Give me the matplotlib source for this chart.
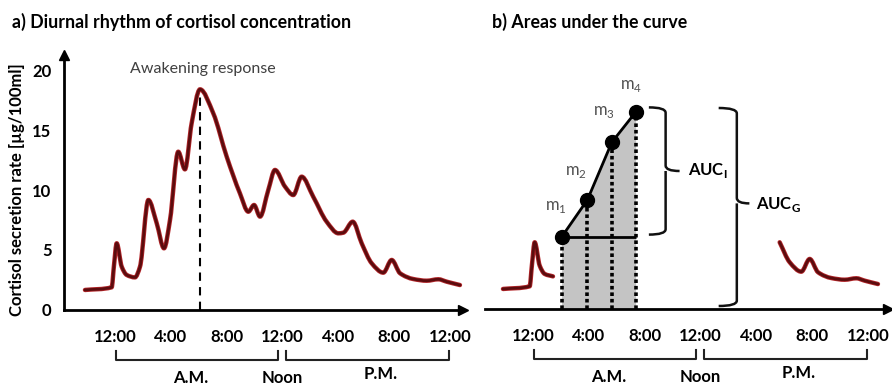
import matplotlib
matplotlib.use('Agg')
import matplotlib.pyplot as plt
import numpy as np
from matplotlib.path import Path
from matplotlib.patches import PathPatch

plt.rcParams['font.family'] = ['Lato', 'DejaVu Sans']

# Cortisol secretion over a day (hours after midnight, µg/100ml)
hours = [-2.15, -0.24, -0.07, 0.12, 0.48, 0.84, 1.43, 1.79, 2.39, 2.99,
         3.51, 3.94, 4.53, 5.01, 5.49, 6.09, 7.04, 8.0, 8.95, 9.55,
         9.96, 10.39, 10.98, 11.46, 12.18, 12.77, 13.37, 14.2, 15.16, 16.0,
         16.35, 17.03, 17.67, 18.39, 19.22, 19.82, 20.42, 21.37, 22.33, 23.16,
         23.76, 24.71]
cortisol = [1.67, 1.89, 3.75, 5.56, 3.61, 2.92, 2.72, 3.61, 9.17, 7.22,
            5.14, 7.5, 13.19, 11.72, 15.56, 18.39, 16.39, 12.78, 9.72, 8.19,
            8.75, 7.78, 10.0, 11.67, 10.28, 9.58, 11.11, 9.44, 7.36, 6.39,
            6.44, 7.36, 5.56, 3.89, 3.11, 4.17, 3.06, 2.58, 2.44, 2.56,
            2.36, 2.08]

# four morning samples used for the AUC illustration
sample_hours = [2.05, 3.9, 5.65, 7.35]
sample_values = [6.0, 9.1, 13.9, 16.4]
sample_names = ['1', '2', '3', '4']

tick_hours = [0, 4, 8, 12, 16, 20, 24]
tick_labels = ['12:00', '4:00', '8:00', '12:00', '4:00', '8:00', '12:00']
y_ticks = [0, 5, 10, 15, 20]

hours = np.array(hours)
cortisol = np.array(cortisol)

W, H = 892, 387
fig = plt.figure(figsize=(W / 100, H / 100), dpi=100)


def px_axes(left, right, top, bottom):
    return fig.add_axes([left / W, 1 - bottom / H, (right - left) / W, (bottom - top) / H])


ax_a = px_axes(64, 463, 55, 310)
ax_b = px_axes(485, 888, 54, 309)

line_dark = '#5c0c0e'
line_red = '#b3262a'


def smooth_path(x, y):
    # cubic Bezier through the points, PCHIP-style slopes so peaks stay on the samples
    h = np.diff(x)
    d = np.diff(y) / h
    m = np.zeros_like(y)
    for i in range(1, len(x) - 1):
        if d[i - 1] * d[i] > 0:
            w1 = 2 * h[i] + h[i - 1]
            w2 = h[i] + 2 * h[i - 1]
            m[i] = (w1 + w2) / (w1 / d[i - 1] + w2 / d[i])
    m[0], m[-1] = d[0], d[-1]
    verts = [(x[0], y[0])]
    codes = [Path.MOVETO]
    for i in range(len(x) - 1):
        dx = h[i] / 3
        verts += [(x[i] + dx, y[i] + m[i] * dx), (x[i + 1] - dx, y[i + 1] - m[i + 1] * dx),
                  (x[i + 1], y[i + 1])]
        codes += [Path.CURVE4] * 3
    return Path(verts, codes)


def draw_curve(ax, x, y):
    p = smooth_path(x, y)
    ax.add_patch(PathPatch(p, fill=False, ec=line_red, lw=3.2, joinstyle='round',
                           capstyle='round', zorder=3))
    ax.add_patch(PathPatch(p, fill=False, ec=line_dark, lw=2.0, joinstyle='round',
                           capstyle='round', zorder=4))


def time_axis(ax):
    ax.set_ylim(0, 21.25)
    ax.set_xticks(tick_hours)
    ax.set_xticklabels(tick_labels, fontweight='bold', fontsize=12)
    ax.tick_params(axis='x', length=0, pad=14)
    for s in ['top', 'right']:
        ax.spines[s].set_visible(False)
    ax.spines['bottom'].set_linewidth(2)
    ax.plot(1, 0, '>', color='k', ms=7, transform=ax.get_yaxis_transform(), clip_on=False)
    # A.M. / P.M. brackets below the time labels
    for x0, x1 in [(0.1, 11.7), (12.25, 23.9)]:
        ax.plot([x0, x0, x1, x1], [-3.4, -4.2, -4.2, -3.4], color='#222222', lw=1.5,
                clip_on=False)
    ax.text(5.4, -5.65, 'A.M.', ha='center', va='center', fontweight='bold', fontsize=12)
    ax.text(12.0, -5.65, 'Noon', ha='center', va='center', fontweight='bold', fontsize=12)
    ax.text(19.0, -5.35, 'P.M.', ha='center', va='center', fontweight='bold', fontsize=12)


def brace(ax, x0, x1, tip, y_top, y_bot, y_mid):
    r = 0.45
    verts = [(x0, y_top), (x1, y_top), (x1, y_top - r),
             (x1, y_mid + r), (x1, y_mid), (tip, y_mid),
             (x1, y_mid), (x1, y_mid - r),
             (x1, y_bot + r), (x1, y_bot), (x0, y_bot)]
    codes = [Path.MOVETO, Path.CURVE3, Path.CURVE3,
             Path.LINETO, Path.CURVE3, Path.LINETO,
             Path.MOVETO, Path.LINETO,
             Path.LINETO, Path.CURVE3, Path.CURVE3]
    ax.add_patch(PathPatch(Path(verts, codes), fill=False, lw=1.8, ec='#111111', clip_on=False))


# ---- a) diurnal rhythm
ax = ax_a
ax.set_xlim((64 - 115) / 13.96, (463 - 115) / 13.96)
time_axis(ax)
ax.spines['left'].set_linewidth(2)
ax.plot(0, 1, '^', color='k', ms=7, transform=ax.transAxes, clip_on=False)
ax.set_yticks(y_ticks)
ax.set_yticklabels([str(t) for t in y_ticks], fontweight='bold', fontsize=12)
ax.tick_params(axis='y', length=0, pad=9)
draw_curve(ax, hours, cortisol)
i_peak = int(np.argmax(cortisol))
ax.vlines(hours[i_peak], 0, cortisol[i_peak], colors='k', linestyles=(0, (4, 3)), lw=1.5, zorder=2)
ax.text(hours[i_peak] + 0.2, 20.1, 'Awakening response', ha='center', va='center',
        color='#404040', fontsize=11.5)

# ---- b) areas under the curve
ax = ax_b
ax.set_xlim((485 - 533) / 13.96, (888 - 533) / 13.96)
time_axis(ax)
ax.spines['left'].set_visible(False)
ax.set_yticks([])
early = hours <= 1.5
late = hours >= 17.6
draw_curve(ax, hours[early], cortisol[early])
draw_curve(ax, hours[late], cortisol[late])

ax.fill_between(sample_hours, sample_values, 0, color='#c4c4c4', lw=0, zorder=1)
ax.vlines(sample_hours, 0, sample_values, colors='k', linestyles=(0, (1, 0.8)), lw=2.6, zorder=2)
ax.hlines(sample_values[0], sample_hours[0], sample_hours[-1], colors='k', lw=2, zorder=3)
ax.plot(sample_hours, sample_values, '-o', color='k', lw=2, ms=10, zorder=5)
label_offsets = [(-4, 16), (-8, 14), (-6, 16), (-3, 13)]
for h, v, n, off in zip(sample_hours, sample_values, sample_names, label_offsets):
    ax.annotate(r'm$_\mathregular{%s}$' % n, (h, v), xytext=off, textcoords='offset points',
                ha='center', va='bottom', color='#505050', fontsize=12)

# AUC with respect to increase and to ground
brace(ax, 8.3, 9.5, 10.5, 16.8, 6.2, 11.5)
ax.text(11.1, 11.5, r'AUC$_\mathregular{I}$', ha='left', va='center', fontsize=12,
        fontweight='bold')
brace(ax, 13.3, 14.6, 15.5, 16.75, 0.25, 8.8)
ax.text(16.0, 8.7, r'AUC$_\mathregular{G}$', ha='left', va='center', fontsize=12,
        fontweight='bold')

fig.text(12 / W, 1 - 22 / H, 'a) Diurnal rhythm of cortisol concentration',
         fontweight='bold', fontsize=12.8, va='center')
fig.text(492 / W, 1 - 22 / H, 'b) Areas under the curve',
         fontweight='bold', fontsize=12.8, va='center')
fig.text(17 / W, 1 - 190 / H, 'Cortisol secretion rate [µg/100ml]', rotation=90,
         fontweight='bold', fontsize=12, ha='center', va='center')

fig.savefig('out.png', dpi=100)
